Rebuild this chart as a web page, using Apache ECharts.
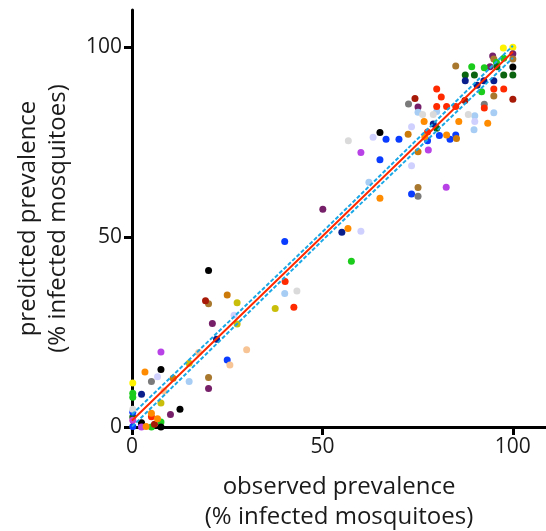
<!DOCTYPE html>
<html>
<head>
<meta charset="utf-8">
<script src="https://cdn.jsdelivr.net/npm/echarts@6/dist/echarts.min.js"></script>
<style>html,body{margin:0;padding:0;background:#fff}#c{width:546px;height:531px}</style>
</head>
<body>
<div id="c"></div>
<script>
// observed (x) vs predicted (y) prevalence, grouped by colour
const yellowPts = [[97.5,99.7],[100,99.9],[0.2,11.6]];
const purplePts = [[100,98.2],[94.7,97.6],[94,94.8],[75.1,84.2],[50.1,57.3],[21.1,27.2],[20.1,10.1],[10.1,3.3]];
const brownPts = [[95,96.8],[100,96.8],[85,95],[95,87.1],[75.1,63],[20.1,32.4],[20.1,13]];
const greenPts = [[97.6,97],[95.7,95.9],[92.5,94.5],[89.2,94.8],[91.8,88.2],[57.6,43.6],[7.6,1.3],[5.1,0],[0.2,8.9],[0.2,7.8]];
const darkGreenPts = [[87.5,92.6],[89.9,92.6],[97.6,92.6],[100,92.6],[95.8,94.8],[80,78.6],[0.2,2.6]];
const navyPts = [[87.5,91.1],[90.6,89.9],[92.4,91.1],[95,91.1],[79.1,79.7],[55.1,51.2],[22.2,23.1],[2.5,8.6]];
const bluePts = [[66.7,75.7],[70.1,75.7],[77.6,75.3],[80.7,76.7],[83.5,75.7],[85,76.8],[65.1,70.3],[73.4,61.3],[40.1,48.8],[25,17.6],[0.2,3.9],[0.2,0.1],[2.5,0.5]];
const lightBluePts = [[75.1,82.8],[80,83],[90,81.9],[95,82.7],[89.8,78.2],[62.2,64.4],[40.1,35.1],[15,12]];
const lavenderPts = [[90,80.4],[73.4,79],[63.3,76.2],[73.4,68.7],[60.1,51.5],[26.8,29.4],[6.7,13.2]];
const lightGrayPts = [[76.3,82.2],[79.1,82.2],[88.3,82.2],[56.8,75.3],[43.3,35.8],[0.2,4.7]];
const grayPts = [[72.6,85],[92.5,84.9],[75.1,60.7],[5.1,12]];
const blackPts = [[100,94.7],[65.1,77.5],[20.1,41.2],[7.6,15.1],[12.6,4.7],[2.5,1.1],[7.6,0]];
const violetPts = [[60.1,72.2],[77.8,72.9],[82.5,63.1],[7.6,19.7],[2.5,0]];
const magentaPts = [[0.2,1.8]];
const redPts = [[80,88.9],[81.2,86.8],[80,84.3],[82.6,84.3],[85,84.3],[95,88.9],[97.6,88.9],[92.5,83.9],[77.6,77.6],[40.2,38.3],[42.5,31.5],[5.1,2.7]];
const darkRedPts = [[74.3,86.4],[87.4,85.9],[100,86.2],[19.3,33.2],[5.9,0.7]];
const orangePts = [[76.7,80.4],[85.8,80.4],[93.4,79.9],[82.6,76.8],[76.9,76.3],[65.1,60.2],[56.7,52.2],[3.4,14.5],[5.1,3.6],[6.7,2.2],[3.7,0.1]];
const ochrePts = [[72.5,77],[75.1,72.4],[85.2,75.9],[25,34.7],[10.8,12.8]];
const olivePts = [[37.6,31.2],[27.6,32.7],[27.6,27.1],[15,16.8],[7.6,6.3]];
const peachPts = [[30.1,20.3],[17.5,19.6],[25.7,16.3],[8.4,9.5]];

// regression line and its confidence band
const fitX = [0, 50, 100];
const fitY = [1.7, 50.2, 98.7];
const upperY = [3.3, 51.3, 100.3];
const lowerY = [0.1, 49.1, 97.1];

const tickValues = [0, 50, 100];

const groups = [
  [yellowPts,'#fff200'],[purplePts,'#77206a'],[brownPts,'#a8782e'],[greenPts,'#1ccc1c'],
  [darkGreenPts,'#0b6410'],[navyPts,'#0a1f8c'],[bluePts,'#0a3cff'],[lightBluePts,'#a7cdf5'],
  [lavenderPts,'#d0d0ff'],[lightGrayPts,'#dadada'],[grayPts,'#7a7a7a'],[blackPts,'#000000'],
  [violetPts,'#b842e6'],[magentaPts,'#d040d0'],[redPts,'#ff2a00'],[darkRedPts,'#a81a08'],
  [orangePts,'#ff8c00'],[ochrePts,'#cc7a0a'],[olivePts,'#c9bf0a'],[peachPts,'#f7c496']
];

const series = groups.map(([pts,col]) => ({
  type:'scatter', data:pts, symbolSize:7, clip:false, z:3,
  itemStyle:{color:col, opacity:1}
}));
const mk = ys => fitX.map((x,i)=>[x,ys[i]]);
series.push({type:'line', data:mk(upperY), showSymbol:false, z:5, clip:false,
  lineStyle:{color:'#1aa8e6', width:2, type:[4,2]}});
series.push({type:'line', data:mk(lowerY), showSymbol:false, z:5, clip:false,
  lineStyle:{color:'#1aa8e6', width:2, type:[4,2]}});
series.push({type:'line', data:mk(fitY), showSymbol:false, z:6, clip:false,
  lineStyle:{color:'#ff2a00', width:2}});

const axisCommon = {
  type:'value', min:0, interval:50,
  splitLine:{show:false},
  axisLine:{show:true, lineStyle:{color:'#000', width:3}},
  axisTick:{show:true, length:8, lineStyle:{color:'#000', width:3}, customValues:tickValues},
  axisLabel:{color:'#1a1a1a', fontSize:21, fontFamily:'Open Sans', margin:10, customValues:tickValues},
  nameLocation:'middle',
  nameTextStyle:{color:'#1a1a1a', fontSize:24, fontFamily:'Open Sans', lineHeight:30}
};

const chart = echarts.init(document.getElementById('c'));
chart.setOption({
  animation:false,
  grid:{left:132, top:10, width:414, height:417, containLabel:false, outerBoundsMode:'none'},
  xAxis:Object.assign({}, axisCommon, {max:108.7, name:'observed prevalence\n(% infected mosquitoes)', nameGap:45}),
  yAxis:Object.assign({}, axisCommon, {max:109.7, name:'predicted prevalence\n(% infected mosquitoes)', nameGap:59}),
  series
});
</script>
</body>
</html>
